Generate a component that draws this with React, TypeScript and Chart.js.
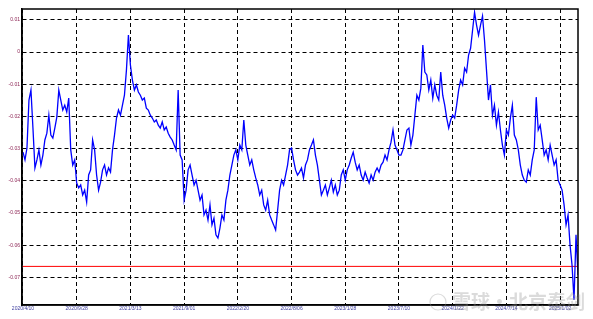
import React, { useEffect, useRef } from 'react';
import { Chart, registerables } from 'chart.js';

Chart.register(...registerables);

// x-axis date labels (one every tickStep samples)
const dateLabels = [
  '2020/4/10', '2020/9/28', '2021/3/13', '2021/9/01', '2022/2/20', '2022/8/06',
  '2023/1/28', '2023/7/10', '2024/1/22', '2024/7/14', '2025/1/02',
];
const tickStep = 27;
const xMin = -0.5;
const xMax = 279;

// y-axis ticks
const yTickValues = [0.01, 0, -0.01, -0.02, -0.03, -0.04, -0.05, -0.06, -0.07];
const yTickLabels = ['0.01', '0', '-0.01', '-0.02', '-0.03', '-0.04', '-0.05', '-0.06', '-0.07'];
const yMin = -0.0786;
const yMax = 0.0134;

// red reference level
const redLevel = -0.0666;

// spread series (blue line)
const spread = [
  -0.0311, -0.0335, -0.0298, -0.0149, -0.0118, -0.0236, -0.0360, -0.0335, -0.0304, -0.0351,
  -0.0320, -0.0273, -0.0252, -0.0196, -0.0258, -0.0267, -0.0236, -0.0202, -0.0118, -0.0149,
  -0.0180, -0.0165, -0.0186, -0.0143, -0.0304, -0.0351, -0.0335, -0.0407, -0.0422, -0.0413,
  -0.0444, -0.0429, -0.0466, -0.0382, -0.0366, -0.0273, -0.0304, -0.0382, -0.0429, -0.0404,
  -0.0366, -0.0351, -0.0382, -0.0360, -0.0373, -0.0304, -0.0258, -0.0205, -0.0180, -0.0196,
  -0.0165, -0.0134, -0.0056, 0.0053, -0.0040, -0.0087, -0.0118, -0.0102, -0.0124, -0.0134,
  -0.0149, -0.0143, -0.0174, -0.0180, -0.0196, -0.0205, -0.0217, -0.0211, -0.0227, -0.0236,
  -0.0217, -0.0242, -0.0233, -0.0252, -0.0264, -0.0273, -0.0289, -0.0304, -0.0118, -0.0320,
  -0.0335, -0.0460, -0.0429, -0.0366, -0.0351, -0.0382, -0.0413, -0.0398, -0.0429, -0.0460,
  -0.0444, -0.0506, -0.0491, -0.0522, -0.0475, -0.0537, -0.0516, -0.0568, -0.0578, -0.0547,
  -0.0506, -0.0522, -0.0460, -0.0429, -0.0382, -0.0351, -0.0320, -0.0304, -0.0335, -0.0289,
  -0.0304, -0.0211, -0.0289, -0.0320, -0.0351, -0.0335, -0.0366, -0.0391, -0.0413, -0.0444,
  -0.0429, -0.0475, -0.0491, -0.0460, -0.0506, -0.0522, -0.0537, -0.0553, -0.0491, -0.0429,
  -0.0398, -0.0413, -0.0382, -0.0351, -0.0304, -0.0298, -0.0335, -0.0366, -0.0382, -0.0373,
  -0.0360, -0.0391, -0.0351, -0.0335, -0.0304, -0.0289, -0.0273, -0.0320, -0.0351, -0.0398,
  -0.0444, -0.0429, -0.0413, -0.0444, -0.0422, -0.0398, -0.0435, -0.0413, -0.0444, -0.0429,
  -0.0382, -0.0366, -0.0398, -0.0366, -0.0351, -0.0329, -0.0311, -0.0342, -0.0366, -0.0351,
  -0.0382, -0.0398, -0.0373, -0.0391, -0.0407, -0.0382, -0.0398, -0.0373, -0.0360, -0.0373,
  -0.0351, -0.0342, -0.0320, -0.0335, -0.0304, -0.0280, -0.0242, -0.0289, -0.0304, -0.0320,
  -0.0320, -0.0304, -0.0273, -0.0242, -0.0236, -0.0289, -0.0258, -0.0196, -0.0134, -0.0149,
  -0.0112, 0.0022, -0.0062, -0.0071, -0.0118, -0.0087, -0.0143, -0.0102, -0.0134, -0.0149,
  -0.0062, -0.0134, -0.0165, -0.0205, -0.0236, -0.0211, -0.0196, -0.0205, -0.0165, -0.0118,
  -0.0087, -0.0102, -0.0050, -0.0062, -0.0009, 0.0012, 0.0068, 0.0124, 0.0084, 0.0053,
  0.0084, 0.0112, 0.0037, -0.0056, -0.0149, -0.0102, -0.0196, -0.0165, -0.0227, -0.0186,
  -0.0242, -0.0289, -0.0320, -0.0242, -0.0258, -0.0205, -0.0165, -0.0258, -0.0273, -0.0304,
  -0.0351, -0.0382, -0.0398, -0.0404, -0.0366, -0.0382, -0.0335, -0.0304, -0.0140, -0.0242,
  -0.0227, -0.0273, -0.0320, -0.0304, -0.0335, -0.0289, -0.0320, -0.0351, -0.0335, -0.0398,
  -0.0413, -0.0429, -0.0475, -0.0537, -0.0506, -0.0599, -0.0662, -0.0770, -0.0568, -0.0693,
];

const watermarkText = '雪球·北京泰剑';

export default function App() {
  const ref = useRef<HTMLCanvasElement>(null);

  useEffect(() => {
    document.body.style.margin = '0';
    const canvas = ref.current;
    if (!canvas) return;

    const framePlugin = {
      id: 'frame',
      afterDraw(chart: any) {
        const { ctx, chartArea: a } = chart;
        ctx.save();
        ctx.strokeStyle = '#000';
        ctx.lineWidth = 1.5;
        ctx.strokeRect(a.left, a.top, a.right - a.left, a.bottom - a.top);
        // watermark
        ctx.globalAlpha = 0.35;
        ctx.strokeStyle = '#999';
        ctx.lineWidth = 1.2;
        ctx.beginPath();
        ctx.arc(438, 302, 8, 0, Math.PI * 2);
        ctx.stroke();
        ctx.fillStyle = '#999';
        ctx.font = 'bold 19px "Noto Sans CJK SC"';
        ctx.textBaseline = 'middle';
        ctx.fillText(watermarkText, 452, 302);
        ctx.restore();
      },
    };

    const chart = new Chart(canvas, {
      type: 'line',
      data: {
        datasets: [
          {
            data: spread.map((v, i) => ({ x: i, y: v })),
            borderColor: '#0000ff',
            borderWidth: 1.3,
            pointRadius: 0,
            tension: 0,
            fill: false,
          },
          {
            data: [
              { x: xMin, y: redLevel },
              { x: xMax, y: redLevel },
            ],
            borderColor: '#ff0000',
            borderWidth: 1,
            pointRadius: 0,
            fill: false,
          },
        ],
      },
      options: {
        animation: false,
        responsive: false,
        events: [],
        layout: { padding: { left: 0, top: 9, right: 15, bottom: 0 } },
        plugins: {
          legend: { display: false },
          tooltip: { enabled: false },
        },
        scales: {
          x: {
            type: 'linear',
            min: xMin,
            max: xMax,
            afterBuildTicks: (axis: any) => {
              axis.ticks = dateLabels.map((_, k) => ({ value: k * tickStep }));
            },
            afterFit: (scale: any) => {
              scale.height = 14;
            },
            ticks: {
              autoSkip: false,
              maxRotation: 0,
              padding: 1,
              color: '#4040a0',
              font: { size: 5, family: 'Arial' },
              callback: (_v: any, idx: number) => dateLabels[idx],
            },
            grid: { color: '#000', lineWidth: 1, drawTicks: false },
            border: { display: true, color: '#000', width: 1.5, dash: [4, 3] },
          },
          y: {
            type: 'linear',
            min: yMin,
            max: yMax,
            afterBuildTicks: (axis: any) => {
              axis.ticks = yTickValues.map((v) => ({ value: v }));
            },
            afterFit: (scale: any) => {
              scale.width = 22;
            },
            ticks: {
              autoSkip: false,
              padding: 2,
              color: '#8b2252',
              font: { size: 5, family: 'Arial' },
              callback: (_v: any, idx: number) => yTickLabels[idx],
            },
            grid: { color: '#000', lineWidth: 1, drawTicks: false },
            border: { display: true, color: '#000', width: 1.5, dash: [4, 3] },
          },
        },
      },
      plugins: [framePlugin],
    });

    return () => chart.destroy();
  }, []);

  return <canvas ref={ref} width={593} height={319} />;
}
